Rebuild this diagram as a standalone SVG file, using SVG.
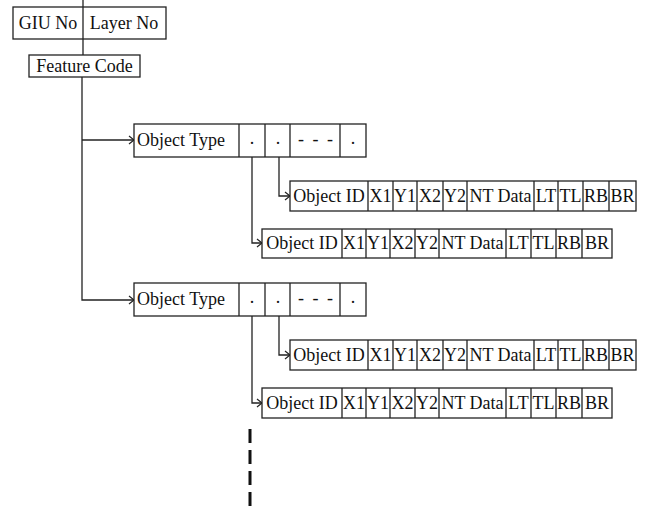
<svg xmlns="http://www.w3.org/2000/svg" width="646" height="507" viewBox="0 0 646 507">
<style>
rect{fill:#fff;stroke:#222;stroke-width:1.3}
.d{stroke:#222;stroke-width:1.3}
text{font-family:"Liberation Serif","Times New Roman",serif;font-size:18px;fill:#111}
.c{text-anchor:middle}
.ln{fill:none;stroke:#222;stroke-width:1.3}
</style>
<defs>
<marker id="ah" markerUnits="userSpaceOnUse" markerWidth="8" markerHeight="10" refX="6" refY="5" orient="auto">
<path d="M1,1 L6,5 L1,9" fill="none" stroke="#222" stroke-width="1.2"/>
</marker>
<g id="otrow">
<rect x="134" y="0" width="232" height="33"/>
<line class="d" x1="239" y1="0" x2="239" y2="33"/>
<line class="d" x1="265" y1="0" x2="265" y2="33"/>
<line class="d" x1="290" y1="0" x2="290" y2="33"/>
<line class="d" x1="340" y1="0" x2="340" y2="33"/>
<text x="137" y="22">Object Type</text>
<text class="c" x="252" y="20">.</text>
<text class="c" x="278" y="20">.</text>
<text x="298" y="21" textLength="35" lengthAdjust="spacing">- - -</text>
<text class="c" x="353" y="20">.</text>
</g>
</defs>

<g id="connectors">
<line class="ln" x1="83" y1="0" x2="83" y2="55"/>
<polyline class="ln" points="82,77 82,300 134,300" marker-end="url(#ah)"/>
<line class="ln" x1="82" y1="140" x2="134" y2="140" marker-end="url(#ah)"/>
<polyline class="ln" points="252,148 252,243 262,243" marker-end="url(#ah)"/>
<polyline class="ln" points="279,148 279,196 290,196" marker-end="url(#ah)"/>
<polyline class="ln" points="252,307 252,403 262,403" marker-end="url(#ah)"/>
<polyline class="ln" points="279,307 279,355 290,355" marker-end="url(#ah)"/>
<line x1="250" y1="429" x2="250" y2="507" stroke="#111" stroke-width="3" stroke-dasharray="14 7"/>
</g>

<g id="giu-layer">
<rect x="13" y="7" width="153" height="32"/>
<line class="d" x1="83" y1="7" x2="83" y2="39"/>
<text class="c" x="48" y="29">GIU No</text>
<text class="c" x="124" y="29">Layer No</text>
</g>

<g id="feature-code">
<rect x="29" y="55" width="111" height="22"/>
<text class="c" x="84.5" y="72">Feature Code</text>
</g>

<g id="object-type-1"><use href="#otrow" y="124"/></g>
<g id="object-type-2"><use href="#otrow" y="283"/></g>

<g id="object-row-1a" transform="translate(290,181)">
<rect x="0" y="0" width="346" height="30"/>
<path class="d" d="M78,0V30M103,0V30M127,0V30M153,0V30M177,0V30M244,0V30M268,0V30M293,0V30M319,0V30"/>
<text class="c" x="39" y="21">Object ID</text><text class="c" x="90.5" y="21">X1</text><text class="c" x="115" y="21">Y1</text><text class="c" x="140" y="21">X2</text><text class="c" x="165" y="21">Y2</text><text class="c" x="210.5" y="21">NT Data</text><text class="c" x="256" y="21">LT</text><text class="c" x="280.5" y="21">TL</text><text class="c" x="306" y="21">RB</text><text class="c" x="332.5" y="21">BR</text>
</g>

<g id="object-row-1b" transform="translate(262,229)">
<rect x="0" y="0" width="350" height="29"/>
<path class="d" d="M80,0V29M104,0V29M128,0V29M153,0V29M177,0V29M244,0V29M269,0V29M294,0V29M320,0V29"/>
<text class="c" x="40" y="20">Object ID</text><text class="c" x="92" y="20">X1</text><text class="c" x="116" y="20">Y1</text><text class="c" x="140.5" y="20">X2</text><text class="c" x="165" y="20">Y2</text><text class="c" x="210.5" y="20">NT Data</text><text class="c" x="256.5" y="20">LT</text><text class="c" x="281.5" y="20">TL</text><text class="c" x="307" y="20">RB</text><text class="c" x="335" y="20">BR</text>
</g>

<g id="object-row-2a" transform="translate(290,340)">
<rect x="0" y="0" width="346" height="30"/>
<path class="d" d="M78,0V30M103,0V30M127,0V30M153,0V30M177,0V30M244,0V30M268,0V30M293,0V30M319,0V30"/>
<text class="c" x="39" y="21">Object ID</text><text class="c" x="90.5" y="21">X1</text><text class="c" x="115" y="21">Y1</text><text class="c" x="140" y="21">X2</text><text class="c" x="165" y="21">Y2</text><text class="c" x="210.5" y="21">NT Data</text><text class="c" x="256" y="21">LT</text><text class="c" x="280.5" y="21">TL</text><text class="c" x="306" y="21">RB</text><text class="c" x="332.5" y="21">BR</text>
</g>

<g id="object-row-2b" transform="translate(262,388)">
<rect x="0" y="0" width="350" height="30"/>
<path class="d" d="M80,0V30M104,0V30M128,0V30M153,0V30M177,0V30M244,0V30M269,0V30M294,0V30M320,0V30"/>
<text class="c" x="40" y="21">Object ID</text><text class="c" x="92" y="21">X1</text><text class="c" x="116" y="21">Y1</text><text class="c" x="140.5" y="21">X2</text><text class="c" x="165" y="21">Y2</text><text class="c" x="210.5" y="21">NT Data</text><text class="c" x="256.5" y="21">LT</text><text class="c" x="281.5" y="21">TL</text><text class="c" x="307" y="21">RB</text><text class="c" x="335" y="21">BR</text>
</g>
</svg>
